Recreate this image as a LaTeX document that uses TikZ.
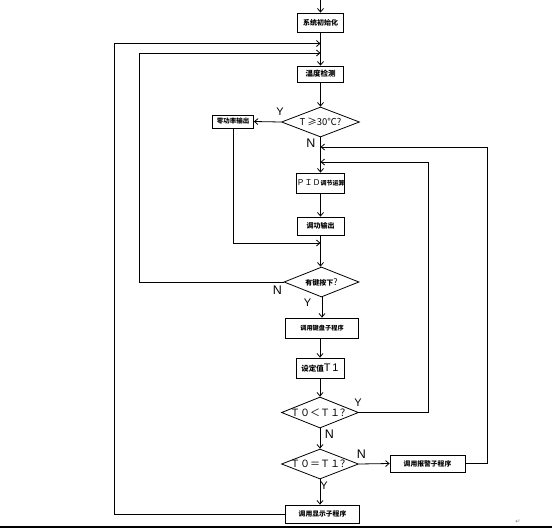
\documentclass[tikz,border=0pt]{standalone}
\usepackage{fontspec}
\setmainfont{Liberation Sans}
\newfontfamily\cjk{Noto Sans CJK SC}
\newfontfamily\djv{DejaVu Sans}
\usetikzlibrary{shapes.geometric,arrows.meta}
\newcommand\zhs[2][7]{{\cjk\bfseries\fontsize{#1}{#1}\selectfont #2}}
\newcommand\zhl[2][7]{{\cjk\fontsize{#1}{#1}\selectfont #2}}
\definecolor{baseline}{RGB}{110,140,145}
\begin{document}
\begin{tikzpicture}[x=1pt,y=-1pt,
  ln/.style={line width=0.8pt,black},
  arr/.style={ln,-{Straight Barb[length=3.5pt,width=6pt]}},
  box/.style={draw,line width=0.8pt,inner sep=0pt,align=center},
  dia/.style={draw,diamond,line width=0.8pt,inner sep=0pt,aspect=2.5},
  lab/.style={inner sep=0pt,font=\fontsize{11}{11}\selectfont},
  labn/.style={inner sep=0pt,font=\fontsize{12.5}{12.5}\selectfont}]
\useasboundingbox (0,0) rectangle (552,528);

% nodes
\node[box,minimum width=46pt,minimum height=19pt] (sys) at (320.5,22.5) {\zhs{系统初始化}};
\node[box,minimum width=46pt,minimum height=16pt] (temp) at (320.5,74) {\zhs[7.5]{温度检测}};
\node[dia,minimum width=78pt,minimum height=30pt] (d1) at (320.5,122) {};
\node[inner sep=0pt] at (d1) {\zhl[9.5]{T ≥30℃?}};
\node[box,minimum width=41pt,minimum height=13pt] (zero) at (233,121.5) {\zhs[6.5]{零功率输出}};
\node[box,minimum width=47pt,minimum height=20pt] (pid) at (320.5,183) {\zhl[8]{ＰＩＤ}\zhs[6]{调节运算}};
\node[box,minimum width=47pt,minimum height=18pt] (adj) at (320.5,226) {\zhs{调功输出}};
\node[dia,minimum width=75pt,minimum height=30pt] (d2) at (321.5,282) {};
\node[inner sep=0pt] at (d2) {\zhs[7]{有键按下}\zhl[9]{?}};
\node[box,minimum width=73pt,minimum height=20pt] (kb) at (322,328) {\zhs[6.2]{调用键盘子程序}};
\node[box,minimum width=48pt,minimum height=20pt] (set) at (320,368) {\zhs[7.5]{设定值}{\fontsize{11}{11}\selectfont T\,1}};
\node[dia,minimum width=77pt,minimum height=31pt] (d3) at (320,412.5) {};
\node[inner sep=0pt] at (d3) {\zhl[10]{Ｔ０＜Ｔ１？}};
\node[dia,minimum width=77pt,minimum height=30pt] (d4) at (320,464) {};
\node[inner sep=0pt] at (d4) {\zhl[10]{Ｔ０＝Ｔ１？}};
\node[box,minimum width=75pt,minimum height=17pt] (alarm) at (427.5,463.5) {\zhs[6.8]{调用报警子程序}};
\node[box,minimum width=74pt,minimum height=18pt] (disp) at (322.5,514) {\zhs[6.8]{调用显示子程序}};

% junction points on the main line
\coordinate (top) at (320.5,0);
\coordinate (j1) at (320.5,43.5);
\coordinate (j2) at (320.5,53);
\coordinate (j3) at (320.5,162);
\coordinate (j4) at (320.5,147);
\coordinate (jz) at (320.5,243);

% main flow
\draw[arr] (top) -- (sys.north);
\draw[arr] (sys.south) -- (temp.north);
\draw[arr] (temp.south) -- (d1.north);
\draw[arr] (d1.west) -- (zero.east);
\draw[arr] (d1.south) -- (pid.north);
\draw[arr] (pid.south) -- (adj.north);
\draw[arr] (adj.south) -- (d2.north -| adj.south);
\draw[arr] (d2.south -| kb.north) -- (kb.north);
\draw[arr] (kb.south -| set.north) -- (set.north);
\draw[arr] (set.south) -- (d3.north);
\draw[arr] (d3.south) -- (d4.north);
\draw[arr] (d4.south) -- (d4.south |- disp.north);
\draw[arr] (d4.east) -- (alarm.west);

% loops
\draw[arr] (zero.south) |- (jz);
\draw[arr] (d2.west) -- (139,282) -- (139,53) -- (j2);
\draw[arr] (d3.east) -- (428.5,412.5) -- (428.5,162) -- (j3);
\draw[arr] (alarm.east) -- (487.5,463.5) -- (487.5,147) -- (j4);
\draw[arr] (disp.west) -- (114,514) -- (114,43.5) -- (j1);

% labels
\node[lab] at (280,112) {Y};
\node[labn] at (311,143.5) {N};
\node[labn] at (277.5,290) {N};
\node[lab] at (307.5,303) {Y};
\node[lab] at (358,402.5) {Y};
\node[labn] at (329.5,434) {N};
\node[labn] at (361.5,454.5) {N};
\node[lab] at (324,486) {Y};

% page baseline
\draw[baseline,line width=2pt] (0,526.5) -- (552,526.5);
\node[inner sep=0pt,text=gray,font=\djv\fontsize{6}{6}\selectfont] at (518,521.5) {↵};
\end{tikzpicture}
\end{document}
